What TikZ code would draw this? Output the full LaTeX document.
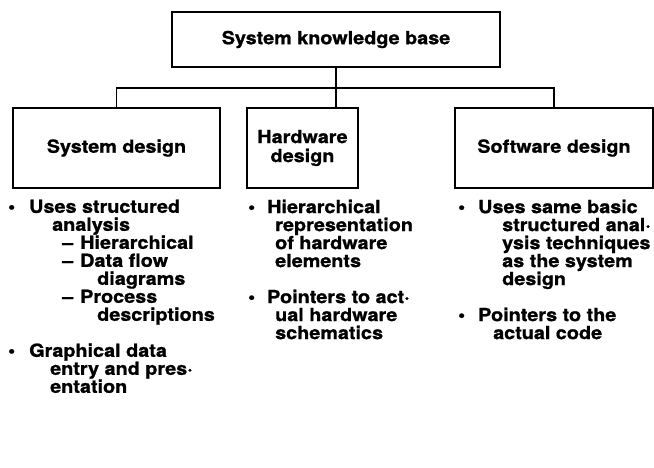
\documentclass[tikz,border=0pt]{standalone}
\usepackage{fontspec}
\setmainfont{TeX Gyre Heros}[FakeStretch=1.1, BoldFeatures={FakeBold=1}]
\usepackage{tikz}
\tikzset{
  box/.style={draw, line width=2pt, inner sep=0pt, align=center,
    font=\bfseries\fontsize{18}{19}\selectfont},
  link/.style={line width=1.6pt},
  notes/.style={anchor=north west, inner sep=0pt, align=left,
    font=\bfseries\fontsize{18}{18}\selectfont},
}
\newcommand{\bul}[1]{\makebox[#1pt][l]{\textbullet}}
\newcommand{\ind}[1]{\hspace*{#1pt}}

\begin{document}
\begin{tikzpicture}[x=1pt,y=-1pt]
      \useasboundingbox (0,0) rectangle (654,468);
      % the knowledge base and its three parts
      \node[box, minimum width=328pt, minimum height=55pt] (kb) at (336,39.5) {System knowledge base};
      \node[box, minimum width=207pt, minimum height=80pt] (sys) at (116.5,148) {System design};
      \node[box, minimum width=111pt, minimum height=80pt] (hw) at (302.5,148) {Hardware\\design};
      \node[box, minimum width=198pt, minimum height=80pt] (sw) at (554,148) {Software design};
      % tree lines
      \coordinate (bus) at (0,88);
      \draw[link] (kb.south) -- (kb.south |- hw.north);
      \draw[link] (sys.north) -- (sys.north |- bus) -- (sw.north |- bus) -- (sw.north);
      % bullet lists under each box
      \node[notes] (sysnotes) at (8,199.5) {\bul{21}Uses structured\\
        \ind{44}analysis\\
        \ind{54}\makebox[18pt][l]{--}Hierarchical\\
        \ind{54}\makebox[18pt][l]{--}Data flow\\
        \ind{89}diagrams\\
        \ind{54}\makebox[18pt][l]{--}Process\\
        \ind{89}descriptions\\[18pt]
        \bul{21}Graphical data\\
        \ind{42}entry and pres·\\
        \ind{42}entation};
      \node[notes] (hwnotes) at (248,199.5) {\bul{19}Hierarchical\\
        \ind{27}representation\\
        \ind{27}of hardware\\
        \ind{27}elements\\[18pt]
        \bul{19}Pointers to act·\\
        \ind{27}ual hardware\\
        \ind{27}schematics};
      \node[notes] (swnotes) at (458,199.5) {\bul{20}Uses same basic\\
        \ind{44}structured anal·\\
        \ind{44}ysis techniques\\
        \ind{44}as the system\\
        \ind{44}design\\[18pt]
        \bul{20}Pointers to the\\
        \ind{35}actual code};
\end{tikzpicture}
\end{document}
